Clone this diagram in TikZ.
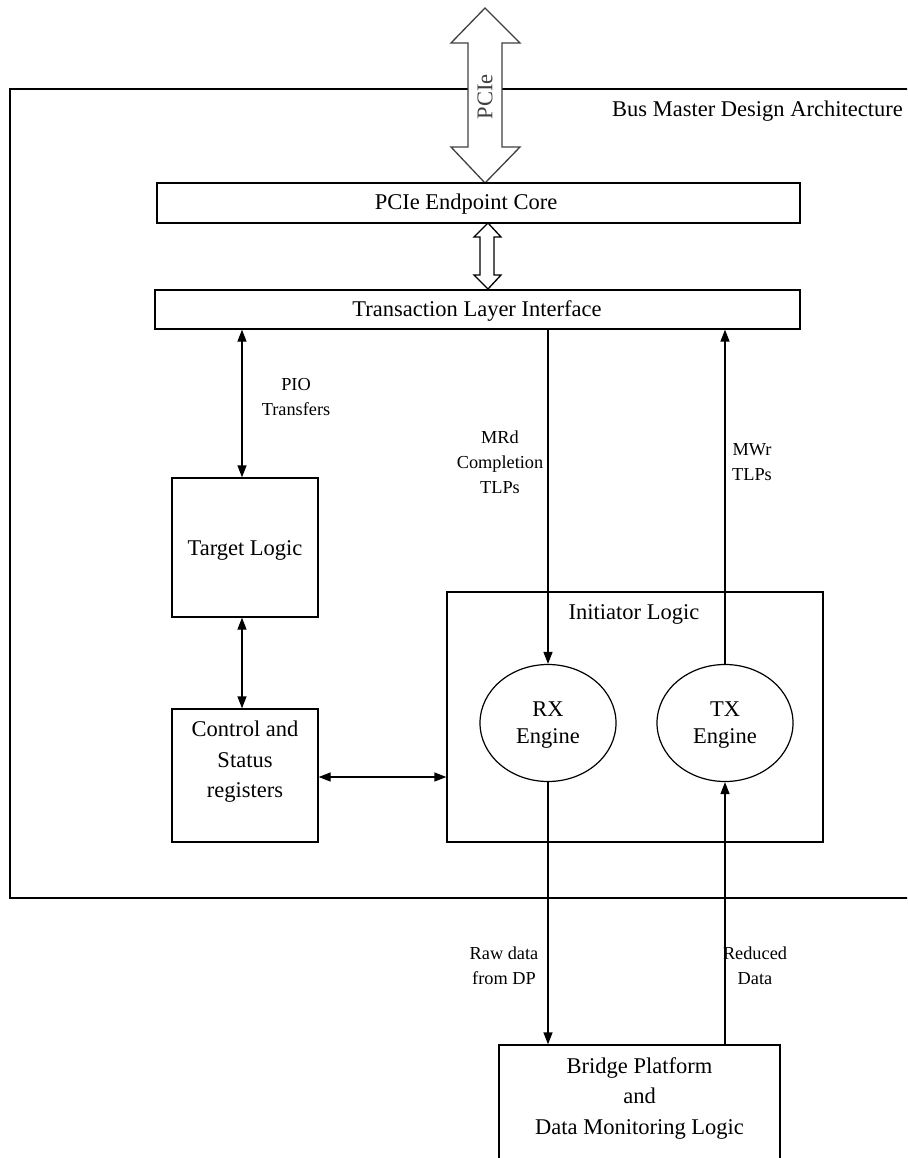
\documentclass[tikz,border=0pt]{standalone}
\usepackage{fontspec}
\setmainfont{Liberation Serif}
\usetikzlibrary{arrows.meta,shapes.geometric}
\begin{document}
\begin{tikzpicture}[x=1pt,y=-1pt,
  box/.style={draw, line width=1.3pt, inner sep=0pt, align=center,
    font=\fontsize{22.5}{30}\selectfont},
  txt/.style={inner sep=0pt, align=center, font=\fontsize{22.5}{30.5}\selectfont},
  lbl/.style={inner sep=0pt, align=center, font=\fontsize{18.3}{25}\selectfont},
  engine/.style={draw, ellipse, line width=1.2pt, inner sep=0pt,
    minimum width=136pt, minimum height=117pt, align=center,
    font=\fontsize{22.5}{27}\selectfont},
  link/.style={line width=1.3pt, -{Triangle[length=12pt,width=9pt]}},
  both/.style={line width=1.3pt, {Triangle[length=12pt,width=9pt]}-{Triangle[length=12pt,width=9pt]}},
  fatarrow/.style={draw=black!75, line width=1.3pt, fill=white, line join=miter}
]
\clip (0,0) rectangle (907,1158);

% enclosing design boundary
\node[draw, line width=2pt, minimum width=920pt, minimum height=809pt, inner sep=0pt]
  (outer) at (470,493.5) {};
\node[txt, anchor=west] (title) at (612,111) {Bus Master Design Architecture};

% PCIe link
\draw[fatarrow] (485,8) -- (520,43) -- (502,43) -- (502,147) -- (520,147) -- (485,183)
  -- (451,147) -- (468,147) -- (468,43) -- (451,43) -- cycle;
\node[txt, rotate=90, text=black!75] (pcie) at (485,97) {PCIe};

% core and transaction layer
\node[box, minimum width=643pt, minimum height=40pt] (core) at (478.5,203) {};
\node[txt] (coretext) at (466,204) {PCIe Endpoint Core};
\node[box, minimum width=645pt, minimum height=39pt] (tli) at (477.5,309.5) {};
\node[txt] (tlitext) at (477,311) {Transaction Layer Interface};

\draw[fatarrow, draw=black] (488,223) -- (501,237) -- (494,237) -- (494,275) -- (501,275) -- (488,289)
  -- (474,275) -- (480,275) -- (480,237) -- (474,237) -- cycle;

% target side
\node[box, minimum width=146pt, minimum height=139pt] (target) at (245,547.5) {};
\node[txt] (targettext) at (245,550) {Target Logic};
\node[box, minimum width=146pt, minimum height=133pt] (ctrl) at (245,775.5) {};
\node[txt] (ctrltext) at (245,762) {Control and\\Status\\registers};

% initiator side
\node[box, minimum width=376pt, minimum height=250pt] (init) at (635,717) {};
\node[txt] (inittitle) at (634,614) {Initiator Logic};
\node[engine] (rx) at (548,723) {};
\node[txt, font=\fontsize{22.5}{27}\selectfont] (rxtext) at (548,725) {RX\\Engine};
\node[engine] (tx) at (725,723) {};
\node[txt, font=\fontsize{22.5}{27}\selectfont] (txtext) at (725,725) {TX\\Engine};

% bridge platform
\node[box, minimum width=281pt, minimum height=160pt] (bridge) at (639.5,1125) {};
\node[txt] (bridgetext) at (639.5,1098) {Bridge Platform\\and\\Data Monitoring Logic};

% connections
\draw[both] (tli.south -| 242,0) -- (target.north -| 242,0);
\node[lbl] (pio) at (296,397) {PIO\\Transfers};
\draw[both] (target.south -| 242,0) -- (ctrl.north -| 242,0);
\draw[both] (ctrl.east |- 0,777) -- (init.west |- 0,777);

\draw[link] (rx.north |- tli.south) -- (rx.north);
\node[lbl] (mrd) at (500,462) {MRd\\Completion\\TLPs};
\draw[link] (tx.north) -- (tx.north |- tli.south);
\node[lbl] (mwr) at (752,462) {MWr\\TLPs};

\draw[link] (rx.south) -- (rx.south |- bridge.north);
\node[lbl] (raw) at (504,966) {Raw data\\from DP};
\draw[link] (tx.south |- bridge.north) -- (tx.south);
\node[lbl] (reduced) at (755,966) {Reduced\\Data};
\end{tikzpicture}
\end{document}
